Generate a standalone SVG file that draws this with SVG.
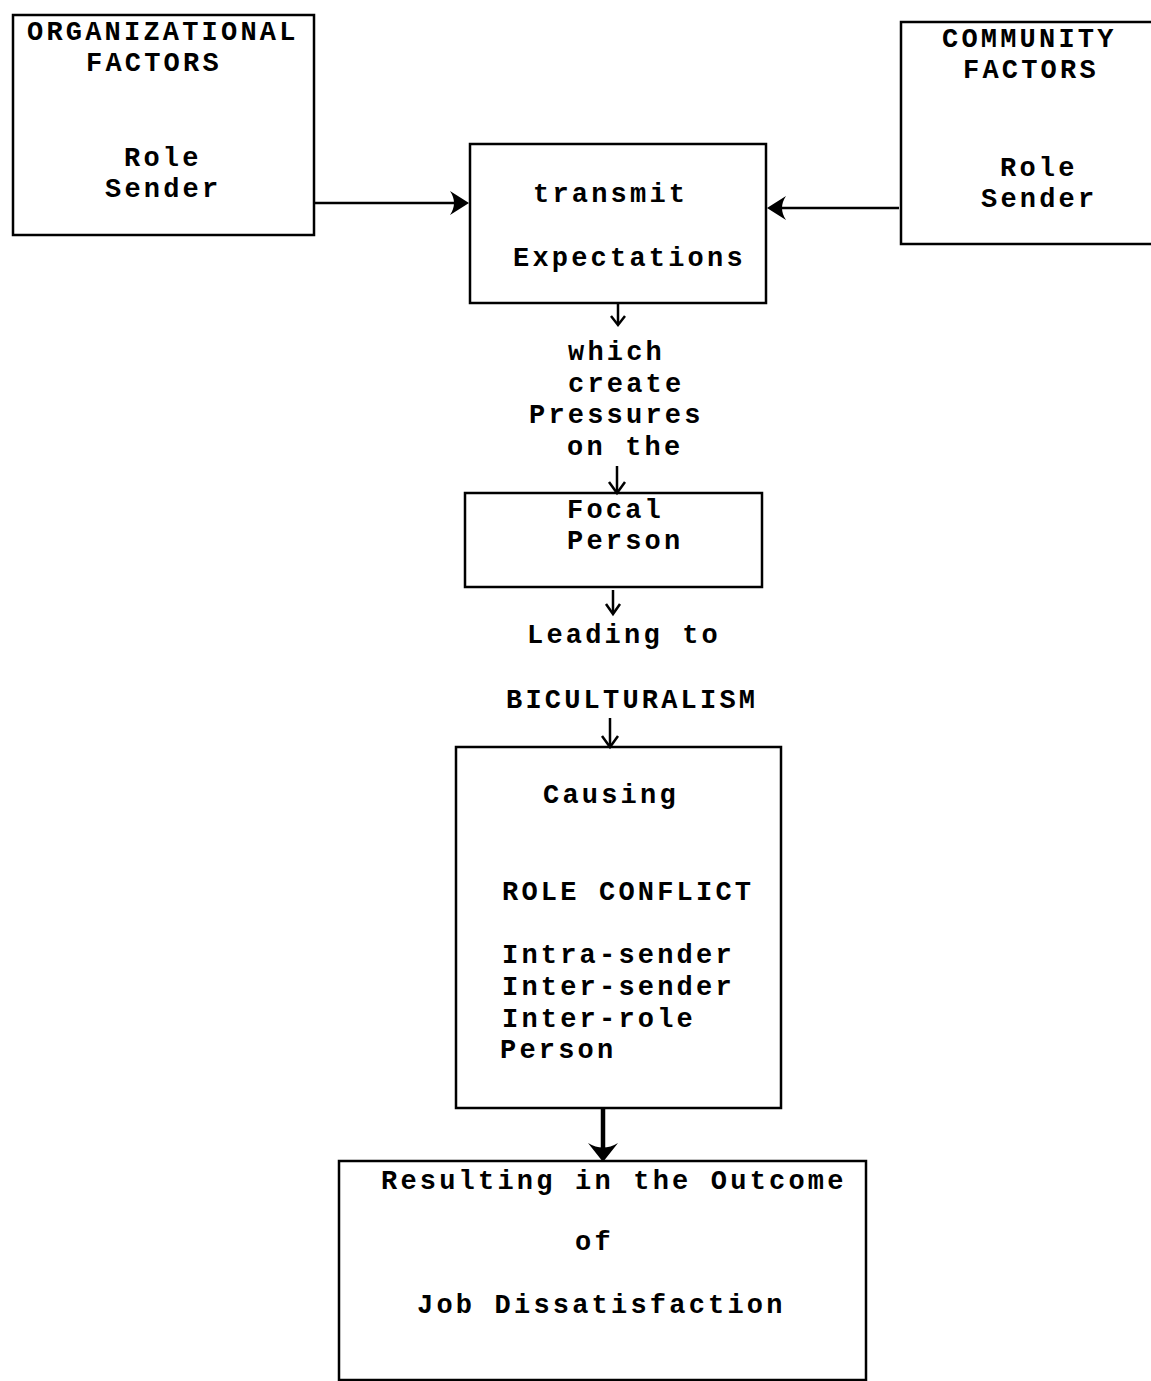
<svg xmlns="http://www.w3.org/2000/svg" width="1151" height="1381" viewBox="0 0 1151 1381">
<style>
.box{fill:none;stroke:#000;stroke-width:2.5}
.t{font-family:"Liberation Mono","Courier New",monospace;font-weight:bold;font-size:27px;letter-spacing:3.2px;fill:#000}
.ln{stroke:#000;stroke-width:2.5;fill:none}
.v{stroke:#000;stroke-width:2.5;fill:none;stroke-linejoin:miter}
.hd{fill:#000;stroke:none}
</style>
<rect width="1151" height="1381" fill="#fff"/>
<g id="org">
<rect class="box" x="13" y="15" width="301" height="220"/>
<text class="t" x="27" y="40">ORGANIZATIONAL</text>
<text class="t" x="86" y="71">FACTORS</text>
<text class="t" x="124" y="166">Role</text>
<text class="t" x="105" y="197">Sender</text>
</g>
<g id="transmit">
<rect class="box" x="470" y="144" width="296" height="159"/>
<text class="t" x="533" y="202">transmit</text>
<text class="t" x="513" y="266">Expectations</text>
</g>
<g id="community">
<rect class="box" x="901" y="22" width="262" height="222"/>
<text class="t" x="942" y="47">COMMUNITY</text>
<text class="t" x="963" y="78">FACTORS</text>
<text class="t" x="1000" y="176">Role</text>
<text class="t" x="981" y="207">Sender</text>
</g>
<g id="pressures">
<text class="t" x="568" y="360">which</text>
<text class="t" x="568" y="392">create</text>
<text class="t" x="529" y="423">Pressures</text>
<text class="t" x="567" y="455">on the</text>
</g>
<g id="focal">
<rect class="box" x="465" y="493" width="297" height="94"/>
<text class="t" x="567" y="518">Focal</text>
<text class="t" x="567" y="549">Person</text>
</g>
<g id="leading">
<text class="t" x="527" y="643">Leading to</text>
</g>
<g id="bicult">
<text class="t" x="506" y="708">BICULTURALISM</text>
</g>
<g id="causing">
<rect class="box" x="456" y="747" width="325" height="361"/>
<text class="t" x="543" y="803">Causing</text>
<text class="t" x="502" y="900">ROLE CONFLICT</text>
<text class="t" x="502" y="963">Intra-sender</text>
<text class="t" x="502" y="995">Inter-sender</text>
<text class="t" x="502" y="1027">Inter-role</text>
<text class="t" x="500" y="1058">Person</text>
</g>
<g id="outcome">
<rect class="box" x="339" y="1161" width="527" height="219"/>
<text class="t" x="381" y="1189">Resulting in the Outcome</text>
<text class="t" x="575" y="1250">of</text>
<text class="t" x="417" y="1313">Job Dissatisfaction</text>
</g>
<g id="connectors">
<line class="ln" x1="314" y1="203" x2="460" y2="203"/>
<path class="hd" d="M469,203 L450,191 Q458,203 450,215 Z"/>
<line class="ln" x1="899" y1="208" x2="776" y2="208"/>
<path class="hd" d="M767,208 L786,196 Q778,208 786,220 Z"/>
<line class="ln" x1="618" y1="304" x2="618" y2="324"/>
<polyline class="v" points="611,316 618,325 625,316"/>
<line class="ln" x1="617" y1="466" x2="617" y2="492"/>
<polyline class="v" points="609,482 617,493 625,482"/>
<line class="ln" x1="613" y1="590" x2="613" y2="613"/>
<polyline class="v" points="606,604 613,614 620,604"/>
<line class="ln" x1="610" y1="718" x2="610" y2="746"/>
<polyline class="v" points="602,736 610,747 618,736"/>
<line x1="603" y1="1108" x2="603" y2="1150" stroke="#000" stroke-width="4.5"/>
<path class="hd" d="M603,1162 L588,1143 Q603,1152 618,1143 Z"/>
</g>
</svg>
